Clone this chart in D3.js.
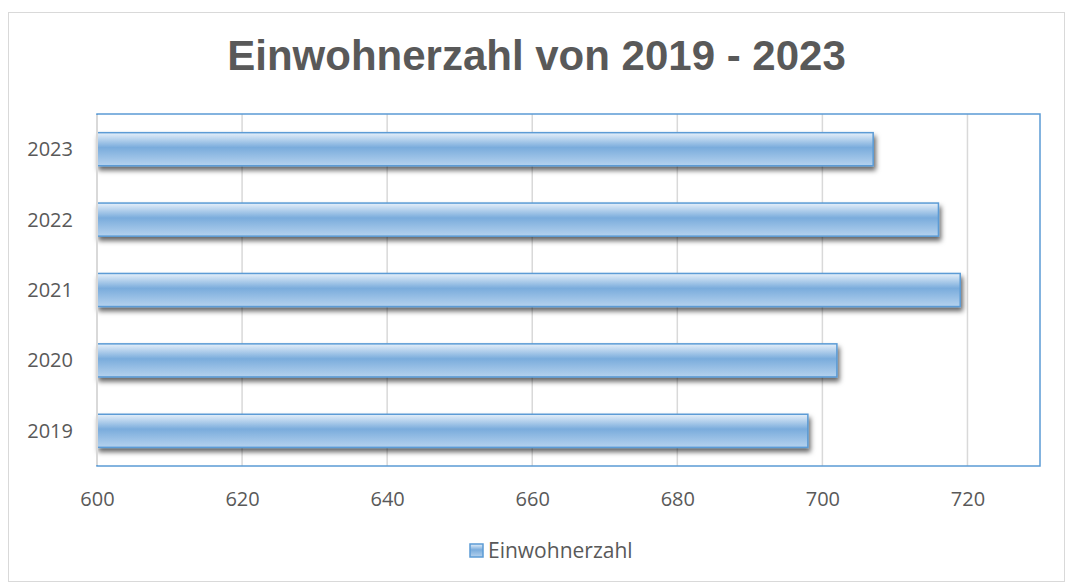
<!DOCTYPE html>
<html lang="de">
<head>
<meta charset="UTF-8">
<title>Einwohnerzahl</title>
<style>
    body { margin: 0; background: #fff; }
    svg text { fill: #595959; }
    .tick text { font-family: 'Open Sans', 'Liberation Sans', sans-serif; font-size: 20px; }
</style>
</head>
<body>
<div id="chart"></div>
<script src="https://d3js.org/d3.v7.min.js"></script>
<script>
const years = ["2019", "2020", "2021", "2022", "2023"];
const values = [698, 702, 719, 716, 707];
const xTicks = [600, 620, 640, 660, 680, 700, 720];
const seriesName = "Einwohnerzahl";
const title = "Einwohnerzahl von 2019 - 2023";

const width = 1073, height = 582;
const plot = { left: 97, top: 114, right: 1040, bottom: 466 };

const svg = d3.select("#chart").append("svg")
    .attr("width", width)
    .attr("height", height);

const defs = svg.append("defs");
const grad = defs.append("linearGradient")
    .attr("id", "barGrad")
    .attr("x1", 0).attr("y1", 0).attr("x2", 0).attr("y2", 1);
grad.append("stop").attr("offset", "0%").attr("stop-color", "#e6f0fa");
grad.append("stop").attr("offset", "45%").attr("stop-color", "#7aacdc");
grad.append("stop").attr("offset", "100%").attr("stop-color", "#b5d2ee");

const shadow = defs.append("filter").attr("id", "shadow")
    .attr("x", "-5%").attr("y", "-30%").attr("width", "110%").attr("height", "180%");
shadow.append("feDropShadow")
    .attr("dx", 2).attr("dy", 4).attr("stdDeviation", 2.5)
    .attr("flood-color", "#000").attr("flood-opacity", 0.6);

// outer chart border
svg.append("rect")
    .attr("x", 8.5).attr("y", 12.5)
    .attr("width", width - 17).attr("height", height - 13)
    .attr("fill", "none").attr("stroke", "#d9d9d9");

svg.append("text")
    .attr("x", width / 2).attr("y", 70)
    .attr("text-anchor", "middle")
    .style("font-family", "'Liberation Sans', Arial, sans-serif")
    .style("font-weight", "bold")
    .style("font-size", "42px")
    .text(title);

const x = d3.scaleLinear().domain([600, 730]).range([plot.left, plot.right]);
const y = d3.scaleBand().domain(years.slice().reverse())
    .range([plot.top, plot.bottom]).paddingInner(0.53).paddingOuter(0.265);

// gridlines
svg.append("g").selectAll("line")
    .data(xTicks)
    .join("line")
    .attr("x1", d => x(d)).attr("x2", d => x(d))
    .attr("y1", plot.top).attr("y2", plot.bottom)
    .attr("stroke", "#d9d9d9").attr("stroke-width", 1.5);

// bars
svg.append("g").selectAll("rect")
    .data(years.map((yr, i) => ({ yr, v: values[i] })))
    .join("rect")
    .attr("x", x(600))
    .attr("y", d => y(d.yr))
    .attr("width", d => x(d.v) - x(600))
    .attr("height", y.bandwidth())
    .attr("fill", "url(#barGrad)")
    .attr("stroke", "#5b9bd5")
    .attr("stroke-width", 1.5)
    .attr("filter", "url(#shadow)");

// plot area border
svg.append("rect")
    .attr("x", plot.left).attr("y", plot.top)
    .attr("width", plot.right - plot.left).attr("height", plot.bottom - plot.top)
    .attr("fill", "none").attr("stroke", "#5b9bd5").attr("stroke-width", 1.5);
svg.append("line")
    .attr("x1", plot.left).attr("x2", plot.left)
    .attr("y1", plot.top + 1).attr("y2", plot.bottom - 1)
    .attr("stroke", "#d9d9d9").attr("stroke-width", 2);

// axes
const xAxis = svg.append("g")
    .attr("transform", `translate(0,${plot.bottom})`)
    .call(d3.axisBottom(x).tickValues(xTicks).tickSize(0).tickPadding(26));
xAxis.select(".domain").remove();

const yAxis = svg.append("g")
    .attr("transform", `translate(${plot.left},0)`)
    .call(d3.axisLeft(y).tickSize(0).tickPadding(24));
yAxis.select(".domain").remove();
yAxis.selectAll("text").attr("dy", "0.35em");

// legend
const legend = svg.append("g").attr("transform", "translate(470,544)");
legend.append("rect")
    .attr("x", 0).attr("y", 0).attr("width", 13).attr("height", 13)
    .attr("fill", "url(#barGrad)").attr("stroke", "#5b9bd5").attr("stroke-width", 1.5);
legend.append("text")
    .attr("x", 18).attr("y", 13.5)
    .style("font-family", "'Open Sans', 'Liberation Sans', sans-serif")
    .style("font-size", "21px")
    .text(seriesName);
</script>
</body>
</html>
